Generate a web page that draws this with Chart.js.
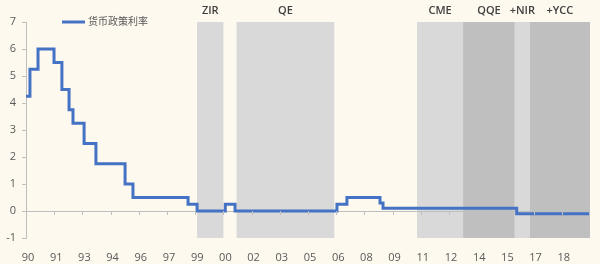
<!DOCTYPE html>
<html>
<head>
<meta charset="utf-8">
<script src="https://cdn.jsdelivr.net/npm/chart.js@4/dist/chart.umd.min.js"></script>
<style>
  html, body { margin: 0; padding: 0; background: #fdf9ef; }
  #wrap { width: 600px; height: 264px; }
</style>
</head>
<body>
<div id="wrap"><canvas id="myChart" width="600" height="264"></canvas></div>
<script>
// policy rate, one entry per change (year as decimal)
const rateYears = [1990.0, 1990.21, 1990.64, 1991.49, 1991.91, 1992.29, 1992.5, 1993.09, 1993.72,
                   1995.27, 1995.69, 1998.62, 1999.1, 2000.6, 2001.12, 2006.54, 2007.07,
                   2008.83, 2008.99, 2016.1, 2019.95];
const rates = [4.25, 5.25, 6.0, 5.5, 4.5, 3.75, 3.25, 2.5, 1.75,
               1.0, 0.5, 0.25, 0, 0.25, 0, 0.25, 0.5,
               0.3, 0.1, -0.1, -0.1];

// shaded policy regimes
const bandLabels = ['ZIR', 'QE', 'CME', 'QQE', '+NIR', '+YCC'];
const bandStart = [1999.1, 2001.2, 2010.8, 2013.25, 2016.0, 2016.8];
const bandEnd = [2000.5, 2006.4, 2013.25, 2016.0, 2016.8, 2020.0];
const bandColors = ['#d9d9d9', '#d9d9d9', '#d9d9d9', '#bfbfbf', '#d9d9d9', '#bfbfbf'];

// x axis labels (every 18 months)
const xTickValues = [1990, 1991.5, 1993, 1994.5, 1996, 1997.5, 1999, 2000.5, 2002, 2003.5,
                     2005, 2006.5, 2008, 2009.5, 2011, 2012.5, 2014, 2015.5, 2017, 2018.5];
const xTickLabels = ['90', '91', '93', '94', '96', '97', '99', '00', '02', '03',
                     '05', '06', '08', '09', '11', '12', '14', '15', '17', '18'];

const seriesName = '货币政策利率';
const FONT = "'Open Sans', 'Noto Sans CJK SC', sans-serif";

const backdrop = {
    id: 'backdrop',
    beforeDraw(chart) {
        const { ctx, chartArea, scales } = chart;
        ctx.save();
        ctx.fillStyle = '#fdf9ef';
        ctx.fillRect(0, 0, chart.width, chart.height);
        for (let i = 0; i < bandLabels.length; i++) {
            const x0 = scales.x.getPixelForValue(bandStart[i]);
            const x1 = scales.x.getPixelForValue(bandEnd[i]);
            ctx.fillStyle = bandColors[i];
            ctx.fillRect(x0, chartArea.top, x1 - x0, chartArea.bottom - chartArea.top);
        }
        ctx.restore();
    },
    afterDraw(chart) {
        const { ctx, scales } = chart;
        ctx.save();
        // band titles
        ctx.fillStyle = '#404040';
        ctx.font = `600 11px ${FONT}`;
        ctx.textAlign = 'center';
        ctx.textBaseline = 'middle';
        for (let i = 0; i < bandLabels.length; i++) {
            const xm = (scales.x.getPixelForValue(bandStart[i]) + scales.x.getPixelForValue(bandEnd[i])) / 2;
            ctx.fillText(bandLabels[i], xm, 11);
        }
        // tick marks along the zero line
        const y0 = scales.y.getPixelForValue(0);
        ctx.strokeStyle = '#bfbfbf';
        ctx.lineWidth = 1;
        for (const v of xTickValues) {
            const x = Math.round(scales.x.getPixelForValue(v)) + 0.5;
            ctx.beginPath();
            ctx.moveTo(x, y0);
            ctx.lineTo(x, y0 + 4);
            ctx.stroke();
        }
        // legend
        ctx.strokeStyle = '#4472c4';
        ctx.lineWidth = 3;
        ctx.beginPath();
        ctx.moveTo(62, 22);
        ctx.lineTo(85, 22);
        ctx.stroke();
        ctx.fillStyle = '#595959';
        ctx.font = `10px ${FONT}`;
        ctx.textAlign = 'left';
        ctx.fillText(seriesName, 88, 22);
        ctx.restore();
    }
};

const cfg = {
    type: 'line',
    data: {
        datasets: [{
            label: seriesName,
            data: rateYears.map((x, i) => ({ x: x, y: rates[i] })),
            borderColor: '#4472c4',
            borderWidth: 3,
            pointRadius: 0,
            stepped: true,
            fill: false
        }]
    },
    options: {
        responsive: false,
        animation: false,
        layout: { padding: { top: 22, right: 10, left: 0, bottom: 0 } },
        plugins: {
            legend: { display: false },
            tooltip: { enabled: false }
        },
        scales: {
            x: {
                type: 'linear',
                min: 1990,
                max: 2020,
                afterFit: (scale) => { scale.height = 26; },
                afterBuildTicks: (scale) => { scale.ticks = xTickValues.map(v => ({ value: v })); },
                grid: { display: false },
                border: { display: false },
                ticks: {
                    autoSkip: false,
                    maxRotation: 0,
                    padding: 5,
                    labelOffset: 2,
                    color: '#595959',
                    font: { family: FONT, size: 11 },
                    callback: (v) => xTickLabels[xTickValues.indexOf(v)]
                }
            },
            y: {
                min: -1,
                max: 7,
                afterFit: (scale) => { scale.width = 26; },
                grid: {
                    color: (c) => c.tick && c.tick.value === 0 ? '#bfbfbf' : 'rgba(0,0,0,0)',
                    tickColor: '#bfbfbf',
                    tickLength: 4
                },
                border: { display: true, color: '#bfbfbf' },
                ticks: {
                    stepSize: 1,
                    padding: 6,
                    color: '#595959',
                    font: { family: FONT, size: 11 }
                }
            }
        }
    },
    plugins: [backdrop]
};

const chart = new Chart(document.getElementById('myChart'), cfg);
</script>
</body>
</html>
